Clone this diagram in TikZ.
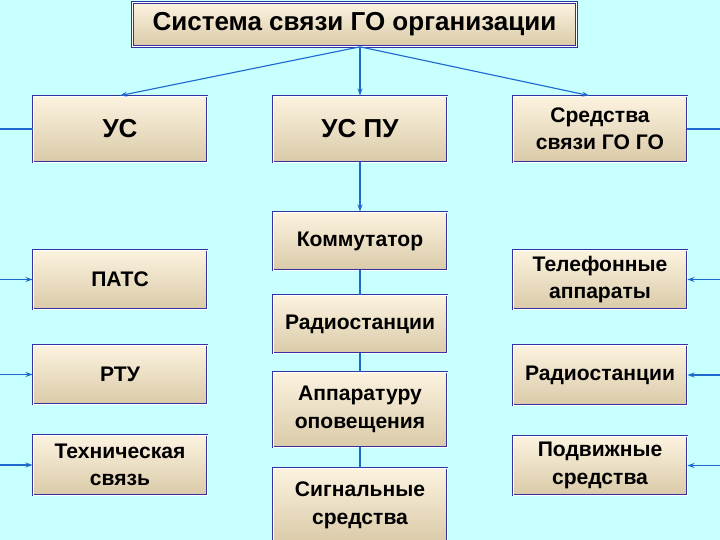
\documentclass[tikz,border=0pt]{standalone}
\usepackage{fontspec}
\setmainfont{Liberation Sans}
\usetikzlibrary{arrows.meta, positioning}
\definecolor{gobg}{RGB}{200, 255, 255}
\definecolor{goblue}{RGB}{50, 50, 160}
\definecolor{golink}{RGB}{30, 105, 205}
\definecolor{golight}{RGB}{252, 243, 224}
\definecolor{godark}{RGB}{218, 202, 168}

\begin{document}
\begin{tikzpicture}[
  every node/.style={font=\fontsize{15}{19.5}\selectfont\bfseries, align=center, inner sep=2pt},
  unit/.style={draw=goblue, double=white, double distance=0.7pt, line width=0.6pt, top color=golight, bottom color=godark, minimum width=4.35cm, minimum height=1.45cm},
  big/.style={font=\fontsize{18.5}{22}\selectfont\bfseries},
  arr/.style={-{Stealth[length=5pt, width=3.5pt]}, golink, line width=0.8pt},
  link/.style={golink, line width=0.8pt}
]
  \useasboundingbox (0,0) rectangle (18,13.5);
  \clip (0,0) rectangle (18,13.5);
  \fill[gobg] (0,0) rectangle (18,13.5);
  \coordinate (edgeL) at (0,0);
  \coordinate (edgeR) at (18,0);

  % top
  \node[unit, big, minimum width=11.1cm, minimum height=1.1cm] (sys) at (8.86, 12.89) {Система связи ГО организации};

  % second row
  \node[unit, big, minimum height=1.65cm] (us) at (3.0, 10.275) {УС};
  \node[unit, big, minimum height=1.65cm] (uspu) at (9.0, 10.275) {УС ПУ};
  \node[unit, minimum height=1.65cm] (sredstva) at (15.0, 10.275) {Средства\\связи ГО ГО};

  % left column
  \node[unit, minimum height=1.475cm] (pats) at (3.0, 6.5125) {ПАТС};
  \node[unit, minimum height=1.475cm] (rtu) at (3.0, 4.1375) {РТУ};
  \node[unit, minimum height=1.5cm] (tech) at (3.0, 1.875) {Техническая\\связь};

  % middle column
  \node[unit] (komm) at (9.0, 7.475) {Коммутатор};
  \node[unit] (radioA) at (9.0, 5.4) {Радиостанции};
  \node[unit, minimum height=1.875cm] (appar) at (9.0, 3.2625) {Аппаратуру\\оповещения};
  \node[unit, minimum height=1.875cm] (signal) at (9.0, 0.8625) {Сигнальные\\средства};

  % right column
  \node[unit, minimum height=1.475cm] (tel) at (15.0, 6.5125) {Телефонные\\аппараты};
  \node[unit, minimum height=1.5cm] (radioB) at (15.0, 4.125) {Радиостанции};
  \node[unit, minimum height=1.475cm] (podv) at (15.0, 1.8625) {Подвижные\\средства};

  \draw[arr] ([xshift=0.14cm]sys.south) -- (us.north);
  \draw[arr] ([xshift=0.14cm]sys.south) -- (uspu.north);
  \draw[arr] ([xshift=0.14cm]sys.south) -- ([xshift=-0.27cm]sredstva.north);

  \draw[arr, line width=1.4pt] (uspu) -- (komm);
  \draw[link, line width=1.2pt] (komm) -- (radioA);
  \draw[link, line width=1.2pt] (radioA) -- (appar);
  \draw[link, line width=1.2pt] (appar) -- (signal);

  \draw[link] (edgeL |- us.west) -- (us.west);
  \draw[link] (sredstva.east) -- (edgeR |- sredstva.east);
  \draw[arr] (edgeL |- pats.west) -- (pats.west);
  \draw[arr] (edgeL |- rtu.west) -- (rtu.west);
  \draw[arr] (edgeL |- tech.west) -- (tech.west);
  \draw[arr] (edgeR |- tel.east) -- (tel.east);
  \draw[arr] (edgeR |- radioB.east) -- (radioB.east);
  \draw[arr] (edgeR |- podv.east) -- (podv.east);
\end{tikzpicture}
\end{document}
